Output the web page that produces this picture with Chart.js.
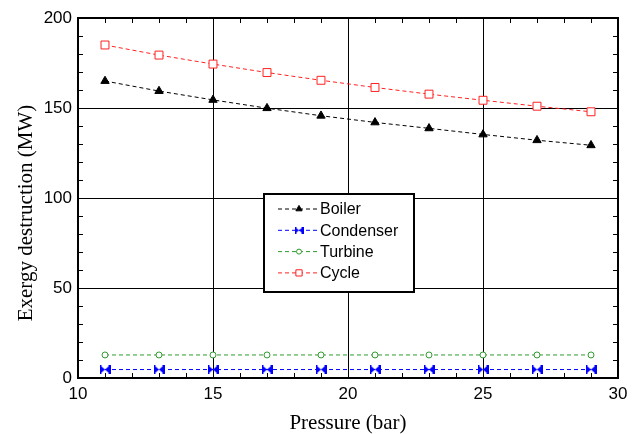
<!DOCTYPE html>
<html>
<head>
<meta charset="utf-8">
<script src="https://cdn.jsdelivr.net/npm/chart.js@4.4.0/dist/chart.umd.min.js"></script>
<style>
  html, body { margin: 0; padding: 0; background: #fff; }
  #wrap { width: 638px; height: 434px; }
</style>
</head>
<body>
<div id="wrap"><canvas id="chart" width="638" height="434"></canvas></div>
<script>
// pressure in bar, exergy destruction in MW
const pressure = [11, 13, 15, 17, 19, 21, 23, 25, 27, 29];
const boiler = [165, 159.4, 154.5, 149.9, 145.7, 142, 138.7, 135.3, 132.1, 129.3];
const condenser = [4.7, 4.7, 4.7, 4.7, 4.7, 4.7, 4.7, 4.7, 4.7, 4.7];
const turbine = [12.8, 12.8, 12.8, 12.8, 12.8, 12.8, 12.8, 12.8, 12.8, 12.8];
const cycle = [185, 179.4, 174.4, 169.7, 165.4, 161.4, 157.7, 154.3, 151, 147.9];

const xTicks = [10, 15, 20, 25, 30];
const yTicks = [0, 50, 100, 150, 200];

const BLUE = '#0000ff';
const GREEN = '#2f9a2f';
const RED = '#ff2020';

// bowtie marker with end bars for the condenser series
function bowtie(w, h) {
  const c = document.createElement('canvas');
  c.width = w; c.height = h;
  const g = c.getContext('2d');
  g.fillStyle = BLUE;
  g.fillRect(0, 0, 2, h);
  g.fillRect(w - 2, 0, 2, h);
  g.beginPath();
  g.moveTo(1, 0.5); g.lineTo(w / 2, h / 2); g.lineTo(1, h - 0.5); g.closePath();
  g.moveTo(w - 1, 0.5); g.lineTo(w / 2, h / 2); g.lineTo(w - 1, h - 0.5); g.closePath();
  g.fill();
  return c;
}
const condMark = bowtie(11, 9);
const condMarkSmall = bowtie(9, 7);

const pts = ys => pressure.map((x, i) => ({ x, y: ys[i] }));

const series = [
  { label: 'Boiler', values: boiler, color: '#000', style: 'triangle', radius: 4.8, fill: '#000', legR: 3.6 },
  { label: 'Condenser', values: condenser, color: BLUE, style: condMark, radius: 5, fill: BLUE, legStyle: condMarkSmall },
  { label: 'Turbine', values: turbine, color: GREEN, style: 'circle', radius: 3, fill: '#fff', legR: 2.5 },
  { label: 'Cycle', values: cycle, color: RED, style: 'rect', radius: 5.6, fill: '#fff', legR: 4.4 }
];

const datasets = series.map(s => ({
  label: s.label,
  data: pts(s.values),
  showLine: true,
  borderColor: s.color,
  borderWidth: 1,
  borderDash: [4, 3],
  pointStyle: s.style,
  pointRadius: s.radius,
  pointBackgroundColor: s.fill,
  pointBorderColor: s.color,
  pointBorderWidth: 1,
  tension: 0
}));

// frame, minor ticks, y title and the boxed legend
const decor = {
  id: 'decor',
  beforeDatasetsDraw(chart) {
    const { ctx, chartArea: a, scales: { x, y } } = chart;
    ctx.save();
    ctx.strokeStyle = '#000';
    ctx.lineWidth = 1;
    ctx.beginPath();
    for (let v = 11; v < 30; v++) {
      if (v % 5 === 0) continue;
      const px = Math.round(x.getPixelForValue(v)) + 0.5;
      ctx.moveTo(px, a.bottom); ctx.lineTo(px, a.bottom - 5);
      ctx.moveTo(px, a.top); ctx.lineTo(px, a.top + 5);
    }
    for (let v = 10; v < 200; v += 10) {
      if (v % 50 === 0) continue;
      const py = Math.round(y.getPixelForValue(v)) + 0.5;
      ctx.moveTo(a.left, py); ctx.lineTo(a.left + 5, py);
      ctx.moveTo(a.right, py); ctx.lineTo(a.right - 5, py);
    }
    ctx.stroke();
    ctx.lineWidth = 2;
    ctx.strokeRect(a.left, a.top, a.right - a.left, a.bottom - a.top);
    ctx.restore();
  },
  afterDraw(chart) {
    const { ctx, chartArea: a } = chart;
    ctx.save();
    // rotated axis title
    ctx.fillStyle = '#000';
    ctx.font = '21px "Liberation Serif", "Times New Roman", serif';
    ctx.textAlign = 'center';
    ctx.textBaseline = 'middle';
    ctx.translate(26, 213);
    ctx.rotate(-Math.PI / 2);
    ctx.fillText('Exergy destruction (MW)', 0, 0);
    ctx.restore();

    // legend box
    const lx = a.left + 186, ly = a.top + 176, lw = 150, lh = 98;
    ctx.save();
    ctx.fillStyle = '#fff';
    ctx.fillRect(lx, ly, lw, lh);
    ctx.strokeStyle = '#000';
    ctx.lineWidth = 2;
    ctx.strokeRect(lx, ly, lw, lh);
    ctx.font = '16px "Liberation Sans", Arial, sans-serif';
    ctx.textBaseline = 'middle';
    ctx.textAlign = 'left';
    series.forEach((s, i) => {
      const cy = ly + 15 + i * 21.3;
      ctx.strokeStyle = s.color;
      ctx.lineWidth = 1;
      ctx.setLineDash([4, 3]);
      ctx.beginPath();
      ctx.moveTo(lx + 14, cy); ctx.lineTo(lx + 55, cy);
      ctx.stroke();
      ctx.setLineDash([]);
      ctx.fillStyle = s.fill;
      Chart.helpers.drawPoint(ctx, {
        pointStyle: s.legStyle || s.style,
        radius: s.legR || 4,
        rotation: 0,
        borderWidth: 1
      }, lx + 35, cy);
      ctx.fillStyle = '#000';
      ctx.fillText(s.label, lx + 56, cy + 1);
    });
    ctx.restore();
  }
};

const tickFont = { family: '"Liberation Sans", Arial, sans-serif', size: 17 };

new Chart(document.getElementById('chart'), {
  type: 'scatter',
  data: { datasets },
  options: {
    responsive: false,
    animation: false,
    layout: { padding: { top: 18, right: 20, left: 0, bottom: 0 } },
    plugins: { legend: { display: false }, tooltip: { enabled: false } },
    scales: {
      x: {
        type: 'linear',
        min: 10,
        max: 30,
        afterBuildTicks: s => { s.ticks = xTicks.map(v => ({ value: v })); },
        ticks: { font: tickFont, color: '#000', padding: 6, maxRotation: 0 },
        grid: { color: '#000', lineWidth: 1, drawTicks: false },
        border: { display: false },
        title: {
          display: true,
          text: 'Pressure (bar)',
          color: '#000',
          font: { family: '"Liberation Serif", "Times New Roman", serif', size: 21, lineHeight: 1 },
          padding: { top: 0, bottom: 0 }
        },
        afterFit: s => { s.height = 56; }
      },
      y: {
        min: 0,
        max: 200,
        afterBuildTicks: s => { s.ticks = yTicks.map(v => ({ value: v })); },
        ticks: { font: tickFont, color: '#000', padding: 6 },
        grid: { color: '#000', lineWidth: 1, drawTicks: false },
        border: { display: false },
        afterFit: s => { s.width = 78; }
      }
    }
  },
  plugins: [decor]
});
</script>
</body>
</html>
